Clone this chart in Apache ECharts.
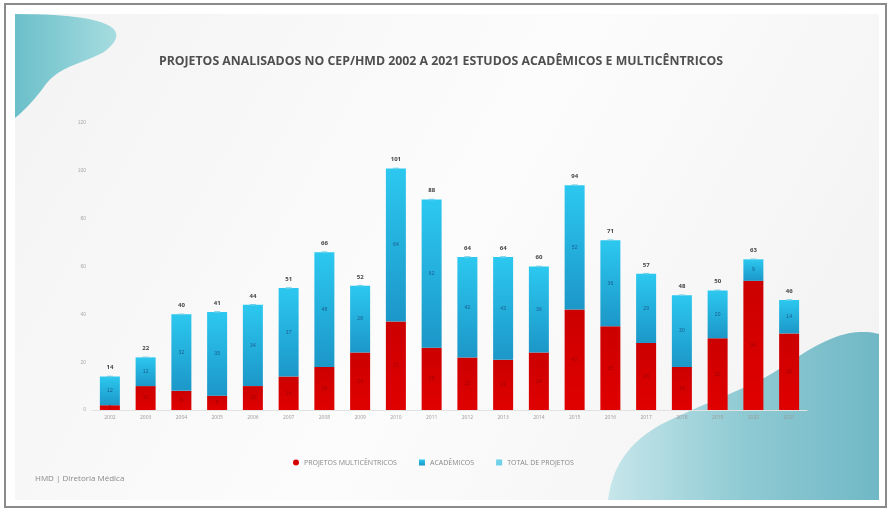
<!DOCTYPE html>
<html><head><meta charset="utf-8">
<script src="https://cdn.jsdelivr.net/npm/echarts@6/dist/echarts.min.js"></script>
<style>html,body{margin:0;padding:0;background:#fff}#c{width:890px;height:509px}</style>
</head><body><div id="c"></div>
<script>
const years = ['2002','2003','2004','2005','2006','2007','2008','2009','2010','2011','2012','2013','2014','2015','2016','2017','2018','2019','2020','2021'];
const multicentricos = [2,10,8,6,10,14,18,24,37,26,22,21,24,42,35,28,18,30,54,32];
const academicos = [12,12,32,35,34,37,48,28,64,62,42,43,36,52,36,29,30,20,9,14];
const totais = [14,22,40,41,44,51,66,52,101,88,64,64,60,94,71,57,48,50,63,46];
const yTicks = [0,20,40,60,80,100,120];

// decorative background blob outlines (sampled cubic curves)
function bez(p0,p1,p2,p3,n){const pts=[];for(let i=0;i<=n;i++){const t=i/n,u=1-t;pts.push([u*u*u*p0[0]+3*u*u*t*p1[0]+3*u*t*t*p2[0]+t*t*t*p3[0],u*u*u*p0[1]+3*u*u*t*p1[1]+3*u*t*t*p2[1]+t*t*t*p3[1]]);}return pts;}
function blob(start,curves,tail){let pts=[start];let cur=start;curves.forEach(c=>{pts=pts.concat(bez(cur,c[0],c[1],c[2],20).slice(1));cur=c[2];});return pts.concat(tail);}
const tlBlob = blob([15,14],[[[126,14],[128,34],[104,52]],[[82,64],[60,66],[46,84]],[[36,98],[25,110],[15,118]]],[]);
const brBlob = blob([608,500],[[[612,470],[625,445],[660,425]],[[700,405],[730,395],[760,380]],[[790,365],[815,340],[850,333]],[[862,331],[872,332],[879,334]]],[[879,500]]);

const chart = echarts.init(document.getElementById('c'), null, {renderer:'canvas'});
const font = '"Open Sans", "Noto Sans", sans-serif';
chart.setOption({
  animation:false,
  backgroundColor:'#ffffff',
  graphic:[
    {type:'rect', z:-10, shape:{x:5,y:4,width:881,height:503}, style:{fill:'#ffffff', stroke:'#8a8a8a', lineWidth:2}},
    {type:'rect', z:-9, shape:{x:15,y:14,width:864,height:486}, style:{fill:new echarts.graphic.LinearGradient(0,0,1,1,[{offset:0,color:'#f3f3f3'},{offset:0.5,color:'#fcfcfc'},{offset:1,color:'#f1f1f1'}])}},
    {type:'polygon', z:-8, shape:{points:tlBlob}, style:{fill:new echarts.graphic.LinearGradient(0,0,1,0,[{offset:0,color:'#6bbfca'},{offset:1,color:'#a6dcdf'}])}},
    {type:'polygon', z:-8, shape:{points:brBlob}, style:{fill:new echarts.graphic.LinearGradient(0,0,1,0,[{offset:0,color:'#c6e6ea'},{offset:0.5,color:'#8fcad3'},{offset:1,color:'#70b8c6'}])}},
    {type:'text', left:35, top:475, style:{text:'HMD | Diretoria Médica', fill:'#8a8a8a', font:'8px '+font}}
  ],
  title:{text:'PROJETOS ANALISADOS NO CEP/HMD 2002 A 2021 ESTUDOS ACADÊMICOS E MULTICÊNTRICOS', left:436, textAlign:'center', top:50, textStyle:{fontFamily:font, fontSize:12.3, fontWeight:'bold', color:'#4f4f4f'}},
  legend:{bottom:38, left:288, itemWidth:6, itemHeight:6, itemGap:22, textStyle:{fontFamily:font, fontSize:7, color:'#888'},
    data:[{name:'PROJETOS MULTICÊNTRICOS', icon:'circle'},{name:'ACADÊMICOS', icon:'rect'},{name:'TOTAL DE PROJETOS', icon:'rect'}]},
  grid:{left:92, right:83, top:123, bottom:99},
  xAxis:{type:'category', data:years, axisLine:{show:true, lineStyle:{color:'#e2e2e2'}}, axisTick:{show:false}, axisLabel:{fontSize:5, color:'#999', margin:5, fontFamily:font}},
  yAxis:{type:'value', min:0, max:120, interval:20, splitLine:{show:false}, axisLine:{show:false}, axisTick:{show:false}, axisLabel:{fontSize:5, color:'#aaa', margin:6, formatter:v=>yTicks.includes(v)?String(v):''}},
  series:[
    {name:'PROJETOS MULTICÊNTRICOS', type:'bar', stack:'a', barWidth:20, data:multicentricos,
      itemStyle:{color:new echarts.graphic.LinearGradient(0,0,0,1,[{offset:0,color:'#cc0000'},{offset:1,color:'#e00000'}])},
      label:{show:true, position:'inside', fontSize:5, color:'#a00000'}},
    {name:'ACADÊMICOS', type:'bar', stack:'a', barWidth:20, data:academicos,
      itemStyle:{color:new echarts.graphic.LinearGradient(0,0,0,1,[{offset:0,color:'#2cc8ef'},{offset:1,color:'#1c97c8'}])},
      label:{show:true, position:'inside', fontSize:5, color:'#1a5a90'}},
    {name:'TOTAL DE PROJETOS', type:'line', data:totais, symbol:'rect', symbolSize:[6,1.5], lineStyle:{opacity:0}, itemStyle:{color:'#6fd0ea'},
      label:{show:true, position:'top', distance:5, fontSize:6, fontWeight:'bold', color:'#444', fontFamily:font}, z:5}
  ]
});
</script></body></html>
